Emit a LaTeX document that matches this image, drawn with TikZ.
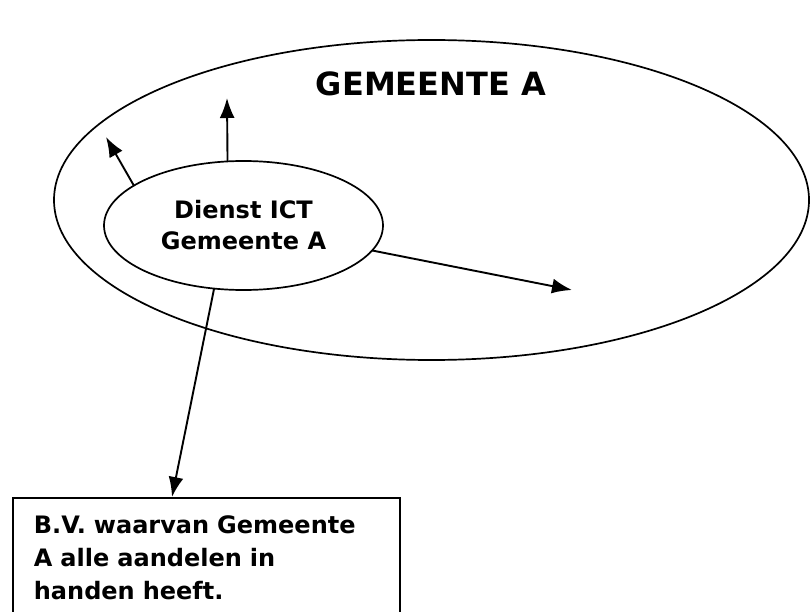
\documentclass[tikz,border=0pt]{standalone}
\usepackage{fontspec}
\setmainfont{DejaVu Sans}
\usepackage{tikz}
\usetikzlibrary{arrows.meta,positioning,shapes.geometric}
\tikzset{
  region/.style={ellipse,draw,line width=1.7pt,inner sep=0,outer sep=0},
  outer region/.style={region,minimum width=755pt,minimum height=320pt},
  inner region/.style={region,minimum width=279pt,minimum height=129pt,fill=white,
    align=center,font=\fontsize{24}{31}\selectfont\bfseries},
  infobox/.style={rectangle,draw,line width=1.8pt,text width=345pt,align=left,
    inner xsep=21pt,inner ysep=18pt,font=\fontsize{24}{33}\selectfont\bfseries},
  connect/.style={-{Latex[length=20pt,width=15pt]},line width=1.9pt}
}

\begin{document}
\begin{tikzpicture}[x=1pt,y=-1pt]
    \useasboundingbox (0,0) rectangle (810,612);
    % Nodes
    \node[outer region] (G) at (431.5,200) {};
    \node[anchor=base,font=\fontsize{32}{38}\selectfont\bfseries] (Gtitle) at (431,96) {GEMEENTE A};
    \node[inner region] (D) at (243.5,225.5) {Dienst ICT\\Gemeente A};
    \node[infobox,anchor=north west] (B) at (12,497) {B.V. waarvan Gemeente\\A alle aandelen in\\handen heeft.};
    % Arrow ends
    \coordinate (t1) at (106,137);
    \coordinate (t2) at (227,98);
    \coordinate (t3) at (572,290);
    \coordinate (t4) at (172,0);
    % Connections
    \draw[connect] (D.160) -- (t1);
    \draw[connect] (D.104.4) -- (t2);
    \draw[connect] (D.-11) -- (t3);
    \draw[connect] (D.245) -- (t4 |- B.north);
  \end{tikzpicture}
\end{document}
